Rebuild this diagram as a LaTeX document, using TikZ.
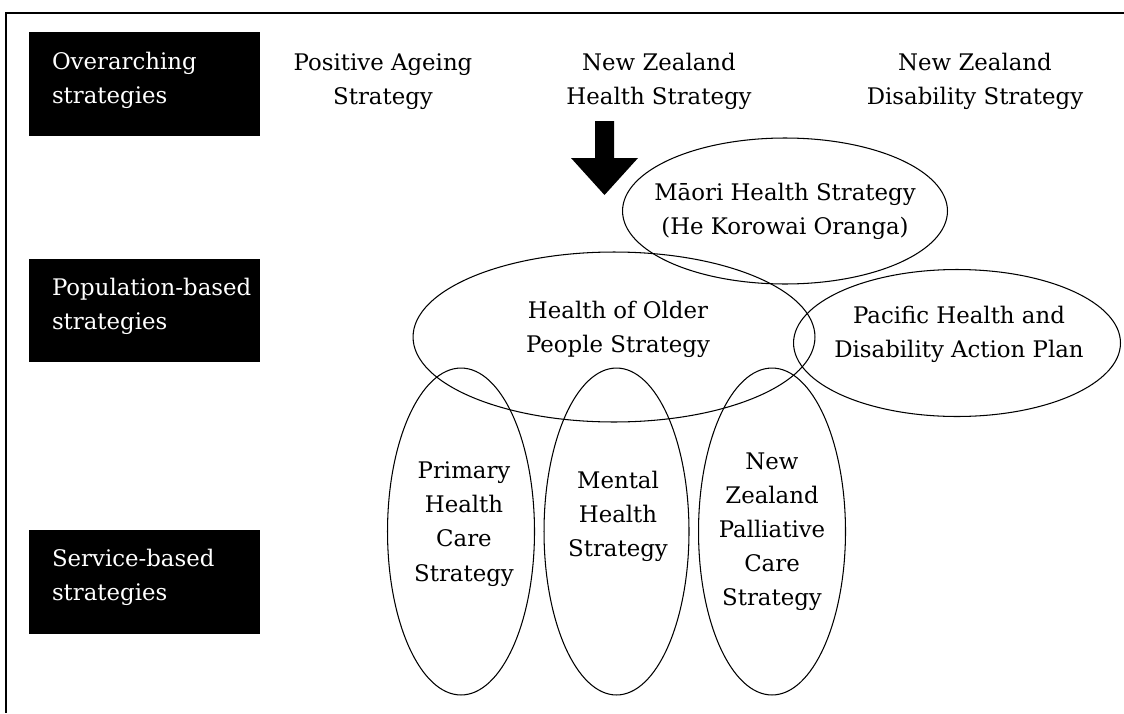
\documentclass[tikz,border=0pt]{standalone}
\usepackage{fontspec}
\setmainfont{DejaVu Serif}
\usepackage{xcolor}
\usepackage{tikz}
\usetikzlibrary{
calc,
positioning,
shapes.geometric
}
\definecolor{ink}{HTML}{000000}
\definecolor{paper}{HTML}{FFFFFF}
\newcommand{\stratfont}{\fontsize{13}{19.4}\selectfont}

\tikzset{
catbox/.style={
rectangle,
fill=ink,
minimum width=4.62cm,
minimum height=2.08cm,
inner sep=0pt
},
cattext/.style={
text=paper,
align=left,
font=\stratfont,
inner sep=0pt
},
toptext/.style={
align=center,
font=\stratfont,
inner sep=0pt
},
oval/.style={
ellipse,
draw=ink,
line width=0.6pt,
inner sep=0pt
},
ovaltext/.style={
align=center,
font=\stratfont,
inner sep=0pt
}
}

\begin{document}
\begin{tikzpicture}[x=0.02cm,y=-0.02cm]

\useasboundingbox (0,0) rectangle (1124,713);

% frame
\draw[line width=1.1pt] (1124,13) -- (6,13) -- (6,713);

% left column
\node[catbox] (over) at (144.5,84) {};
\node[cattext, anchor=west, above right=0.08cm and 0.46cm of over.west, anchor=west] (over-t) {Overarching\\strategies};

\node[catbox] (popu) at (144.5,310.5) {};
\node[cattext, anchor=west, above right=0.08cm and 0.46cm of popu.west, anchor=west] (popu-t) {Population-based\\strategies};

\node[catbox] (serv) at (144.5,581.5) {};
\node[cattext, anchor=west, above right=0.08cm and 0.46cm of serv.west, anchor=west] (serv-t) {Service-based\\strategies};

% overarching strategies
\node[toptext] (ageing) at (383,81.5) {Positive Ageing\\Strategy};
\node[toptext] (nzhs) at (659,81.5) {New Zealand\\Health Strategy};
\node[toptext] (nzds) at (975,81.5) {New Zealand\\Disability Strategy};

% block arrow
\fill[ink] (595,121) -- (614,121) -- (614,158) -- (638,158) -- (604.5,195)
  -- (571,158) -- (595,158) -- cycle;

% population-based strategies
\node[oval, minimum width=6.5cm, minimum height=2.92cm] (maori) at (785,211) {};
\node[ovaltext] (maori-t) at (maori) {Māori Health Strategy\\(He Korowai Oranga)};

\node[oval, minimum width=8.04cm, minimum height=3.4cm] (older) at (614,337) {};
\node[ovaltext] (older-t) at ($(older)+(4,-7.5)$) {Health of Older\\People Strategy};

\node[oval, minimum width=6.54cm, minimum height=2.94cm] (pacific) at (957,343) {};
\node[ovaltext] (pacific-t) at ($(pacific)+(2,-8.5)$) {Pacific Health and\\Disability Action Plan};

% service-based strategies
\node[oval, minimum width=2.94cm, minimum height=6.54cm] (primary) at (461,531.5) {};
\node[ovaltext] (primary-t) at ($(primary)+(3,-7.5)$) {Primary\\Health\\Care\\Strategy};

\node[oval, minimum width=2.9cm, minimum height=6.54cm] (mental) at (616.5,531.5) {};
\node[ovaltext] (mental-t) at ($(mental)+(1.5,-15.5)$) {Mental\\Health\\Strategy};

\node[oval, minimum width=2.94cm, minimum height=6.54cm] (palli) at (772,531.5) {};
\node[ovaltext] (palli-t) at (palli) {New\\Zealand\\Palliative\\Care\\Strategy};

\end{tikzpicture}
\end{document}
